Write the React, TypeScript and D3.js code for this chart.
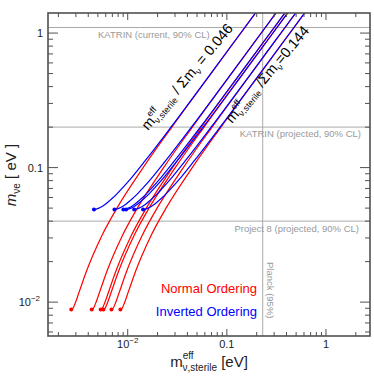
import React from "react";
import * as d3 from "d3";

// sterile-to-total mass ratios of the six curves
const ratios = [0.046, 0.074, 0.091, 0.097, 0.117, 0.144];

// normal ordering: total mass vs m_nue
const noSum = [0.0586, 0.0597, 0.0609, 0.0629, 0.0652, 0.0694, 0.0742, 0.0845, 0.0957, 0.1195, 0.1714, 0.3122, 0.6064, 1.5025, 3.001, 6.0];
const noMee = [0.0088, 0.00884, 0.0090, 0.00946, 0.0101, 0.01154, 0.0133, 0.01738, 0.0218, 0.0313, 0.0508, 0.1004, 0.2002, 0.5001, 1.0, 2.0];

// inverted ordering: total mass vs m_nue
const ioSum = [0.0993, 0.1048, 0.1113, 0.1187, 0.1273, 0.1459, 0.1675, 0.1908, 0.2416, 0.3233, 0.6121, 1.5047, 3.0024, 6.0012];
const ioMee = [0.0489, 0.04919, 0.04995, 0.05119, 0.0529, 0.0576, 0.06321, 0.0701, 0.08541, 0.1115, 0.2059, 0.5024, 1.0012, 2.0006];

// experimental limits
const katrinNow = 1.1;
const katrinFuture = 0.2;
const project8 = 0.04;
const planck = 0.23;

const xTicks = [0.01, 0.1, 1];
const yTicks = [0.01, 0.1, 1];

const W = 374, H = 379;
const left = 48, right = 370, top = 13, bottom = 336;
const font = "Liberation Sans, Arial, Helvetica, sans-serif";
const frame = "#505050";
const gridGray = "#aaaaaa";

export default function App() {
  const x = d3.scaleLog().domain([0.00157, 2.78]).range([left, right]);
  const y = d3.scaleLog().domain([0.0056, 1.41]).range([bottom, top]);

  const minor = (lo: number, hi: number) => {
    const out: number[] = [];
    for (let e = -3; e <= 0; e++) {
      for (let k = 2; k <= 9; k++) {
        const v = k * Math.pow(10, e);
        if (v > lo && v < hi) out.push(v);
      }
    }
    return out;
  };
  const xMinor = minor(0.00157, 2.78);
  const yMinor = minor(0.0056, 1.41);

  const line = d3
    .line<[number, number]>()
    .x((d) => x(d[0]))
    .y((d) => y(d[1]))
    .curve(d3.curveMonotoneX);

  const noCurves = ratios.map((r) => noSum.map((s, i) => [r * s, noMee[i]] as [number, number]));
  const ioCurves = ratios.map((r) => ioSum.map((s, i) => [r * s, ioMee[i]] as [number, number]));

  const supLabel = (v: number) =>
    v === 0.01 ? (
      <>
        10<tspan dy={-5} fontSize={8}>−2</tspan>
      </>
    ) : (
      String(v)
    );

  return (
    <svg width={W} height={H} style={{ position: "absolute", left: 0, top: 0 }} fontFamily={font}>
      <rect width={W} height={H} fill="white" />
      <defs>
        <clipPath id="plot">
          <rect x={left} y={top} width={right - left} height={bottom - top} />
        </clipPath>
      </defs>

      {/* limit lines */}
      <g stroke={gridGray} strokeWidth={1}>
        <line x1={left} x2={right} y1={y(katrinNow)} y2={y(katrinNow)} />
        <line x1={left} x2={right} y1={y(katrinFuture)} y2={y(katrinFuture)} />
        <line x1={left} x2={right} y1={y(project8)} y2={y(project8)} />
        <line x1={x(planck)} x2={x(planck)} y1={top} y2={bottom} />
      </g>
      <g fill="#999" fontSize={9.5}>
        <text x={98} y={y(katrinNow) + 10}>KATRIN (current, 90% CL)</text>
        <text x={361} y={y(katrinFuture) + 10} textAnchor="end">KATRIN (projected, 90% CL)</text>
        <text x={359} y={y(project8) + 11} textAnchor="end">Project 8 (projected, 90% CL)</text>
        <text transform={`translate(${x(planck) + 4},${262}) rotate(90)`}>Planck (95%)</text>
      </g>

      {/* curves */}
      <g clipPath="url(#plot)" fill="none" strokeWidth={1.2}>
        {noCurves.map((c, i) => (
          <path key={"n" + i} d={line(c) || ""} stroke="#ff0000" />
        ))}
        {ioCurves.map((c, i) => (
          <path key={"i" + i} d={line(c) || ""} stroke="#0000ff" />
        ))}
        {noCurves.map((c, i) => (
          <circle key={"nd" + i} cx={x(c[0][0])} cy={y(c[0][1])} r={2} fill="#ff0000" />
        ))}
        {ioCurves.map((c, i) => (
          <circle key={"id" + i} cx={x(c[0][0])} cy={y(c[0][1])} r={2} fill="#0000ff" />
        ))}
      </g>

      {/* ratio labels */}
      <text transform="translate(148,131) rotate(-50)" fontSize={14.5} fill="#000">
        m
        <tspan dy={-7} fontSize={9}>eff</tspan>
        <tspan dx={-10} dy={10.5} fontSize={9}>ν,sterile</tspan>
        <tspan dy={-3.5}> / Σm</tspan>
        <tspan dy={3.5} fontSize={9}>ν</tspan>
        <tspan dy={-3.5}>{" = 0.046"}</tspan>
      </text>
      <text transform="translate(232,124) rotate(-50)" fontSize={14.5} fill="#000">
        m
        <tspan dy={-7} fontSize={9}>eff</tspan>
        <tspan dx={-10} dy={10.5} fontSize={9}>ν,sterile</tspan>
        <tspan dy={-3.5}> /Σm</tspan>
        <tspan dy={3.5} fontSize={9}>ν</tspan>
        <tspan dy={-3.5}>{"=0.144"}</tspan>
      </text>

      {/* legend */}
      <text x={257} y={293} textAnchor="end" fontSize={13} fill="#ff0000">Normal Ordering</text>
      <text x={257} y={316} textAnchor="end" fontSize={13} fill="#0000ff">Inverted Ordering</text>

      {/* ticks */}
      <g stroke={frame} strokeWidth={1}>
        {xTicks.map((t) => (
          <g key={"xt" + t}>
            <line x1={x(t)} x2={x(t)} y1={bottom} y2={bottom - 7} />
            <line x1={x(t)} x2={x(t)} y1={top} y2={top + 7} />
          </g>
        ))}
        {xMinor.map((t) => (
          <g key={"xm" + t}>
            <line x1={x(t)} x2={x(t)} y1={bottom} y2={bottom - 4} />
            <line x1={x(t)} x2={x(t)} y1={top} y2={top + 4} />
          </g>
        ))}
        {yTicks.map((t) => (
          <g key={"yt" + t}>
            <line x1={left} x2={left + 10} y1={y(t)} y2={y(t)} />
            <line x1={right} x2={right - 10} y1={y(t)} y2={y(t)} />
          </g>
        ))}
        {yMinor.map((t) => (
          <g key={"ym" + t}>
            <line x1={left} x2={left + 5} y1={y(t)} y2={y(t)} />
            <line x1={right} x2={right - 5} y1={y(t)} y2={y(t)} />
          </g>
        ))}
      </g>
      <rect x={left} y={top} width={right - left} height={bottom - top} fill="none" stroke={frame} strokeWidth={1.6} />

      {/* tick labels */}
      <g fontSize={11} fill="#222">
        {xTicks.map((t) => (
          <text key={"xl" + t} x={x(t)} y={348} textAnchor="middle">{supLabel(t)}</text>
        ))}
        {yTicks.map((t) => (
          <text key={"yl" + t} x={t === 0.01 ? 40 : 43} y={y(t) + 4} textAnchor="end">{supLabel(t)}</text>
        ))}
      </g>

      {/* axis titles */}
      <text x={209} y={367} textAnchor="middle" fontSize={15} fill="#222">
        m
        <tspan dy={-8} fontSize={10}>eff</tspan>
        <tspan dx={-11} dy={12} fontSize={10}>ν,sterile</tspan>
        <tspan dy={-4}> [eV]</tspan>
      </text>
      <text transform={`translate(16,175) rotate(-90)`} textAnchor="middle" fontSize={15} fill="#222">
        <tspan fontStyle="italic">m</tspan>
        <tspan dy={4} fontSize={10}>νe</tspan>
        <tspan dy={-4}>{"  [ eV ]"}</tspan>
      </text>
    </svg>
  );
}
